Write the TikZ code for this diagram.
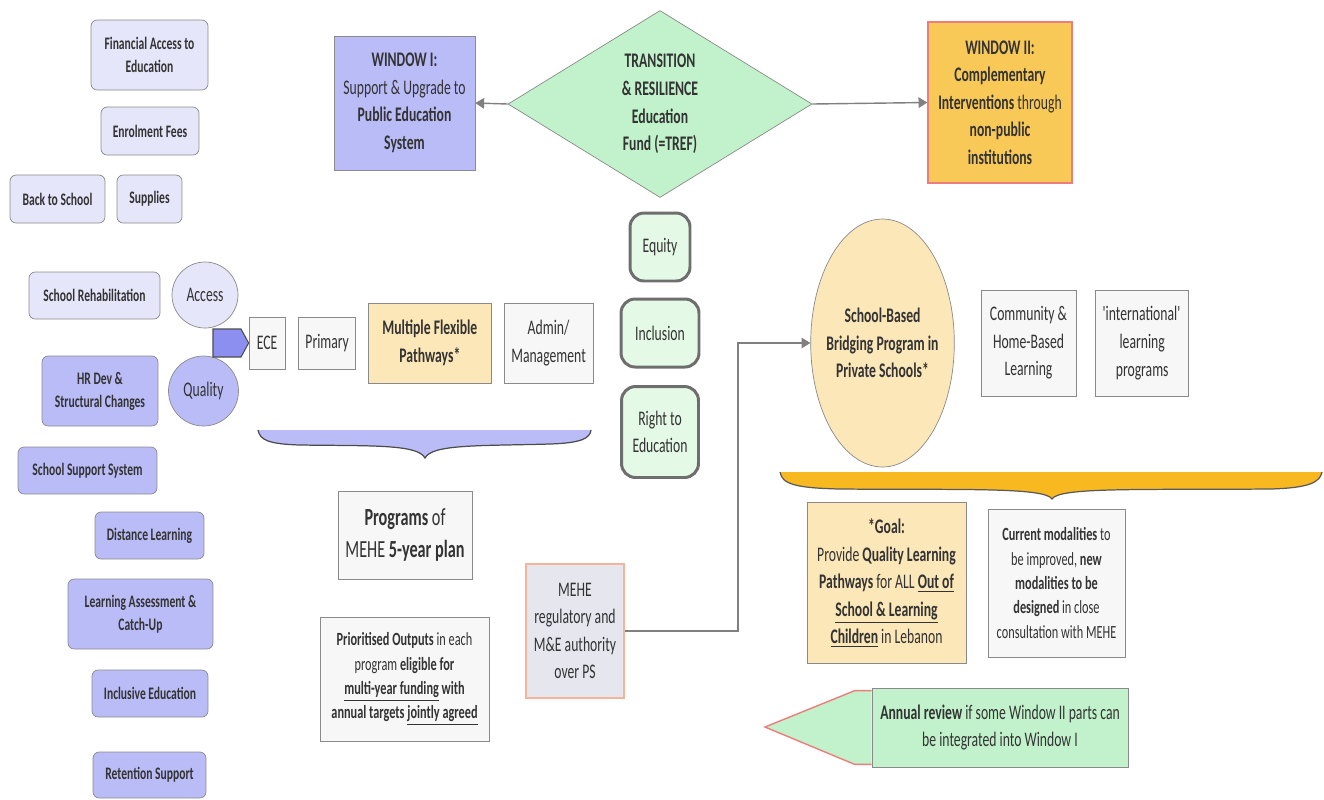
\documentclass[tikz,border=0pt]{standalone}
\usepackage{fontspec}
\setmainfont[FakeStretch=0.66]{Carlito}
\usepackage{xcolor}
\usepackage{tikz}
\usetikzlibrary{
  arrows.meta,
  positioning,
  calc,
  shapes.geometric,
  backgrounds
}
\definecolor{lavlight}{HTML}{E6E6FA}
\definecolor{lavdark}{HTML}{BABCF7}
\definecolor{paper}{HTML}{F7F7F7}
\definecolor{wheat}{HTML}{FBE7B8}
\definecolor{mint}{HTML}{C2F2CB}
\definecolor{mintlight}{HTML}{E4F9E6}
\definecolor{gold}{HTML}{F9C957}
\definecolor{bracegold}{HTML}{F8B820}
\definecolor{pointer}{HTML}{8C8EF0}
\definecolor{meheblue}{HTML}{E6E6EF}
\definecolor{salmon}{HTML}{F5B49A}
\definecolor{winred}{HTML}{EE7C7C}
\definecolor{edgegray}{HTML}{8A8A8A}
\definecolor{pillgray}{HTML}{6E6E6E}
\definecolor{linegray}{HTML}{808080}
\definecolor{ink}{HTML}{333333}
\newcommand{\tagfont}{\fontsize{10}{13}\selectfont\bfseries}
\newcommand{\bodyfont}{\fontsize{11.8}{15.7}\selectfont}
\newcommand{\notefont}{\fontsize{10.6}{13.9}\selectfont}
\newcommand{\udl}[1]{\underline{#1}}

\begin{document}
\begin{tikzpicture}[
  x=0.02cm, y=-0.02cm,
  tag/.style={draw=edgegray, fill=lavlight, rounded corners=3.5pt, inner sep=0pt, align=center, font=\tagfont, text=ink},
  tagdark/.style={tag, fill=lavdark},
  plain/.style={draw=edgegray, fill=paper, inner sep=0pt, align=center, font=\bodyfont, text=ink},
  pill/.style={draw=pillgray, line width=1.7pt, fill=mintlight, rounded corners=8pt, inner sep=0pt, align=center, font=\bodyfont, text=ink},
  dot/.style={circle, draw=edgegray, inner sep=0pt, font=\bodyfont, text=ink},
  conn/.style={draw=linegray, line width=0.8pt, -{Triangle[length=5pt,width=6pt]}},
]
  \useasboundingbox (0,0) rectangle (1324,799);

  % Fund and its two windows
  \node[diamond, shape aspect=1.6, draw=edgegray, fill=mint, minimum width=6.08cm, minimum height=3.74cm,
    inner sep=0pt, align=center, font=\bodyfont\bfseries, text=ink] (tref) at (660,104)
    {TRANSITION\\\& RESILIENCE\\Education\\Fund (=TREF)};
  \node[plain, fill=lavdark, minimum width=2.82cm, minimum height=2.68cm] (winone) at (404.5,103)
    {\textbf{WINDOW I:}\\Support \& Upgrade to\\\textbf{Public Education}\\\textbf{System}};
  \node[plain, fill=gold, draw=winred, line width=0.8pt, minimum width=2.88cm, minimum height=3.22cm] (wintwo) at (1000,102.5)
    {\textbf{WINDOW II:}\\\textbf{Complementary}\\\textbf{Interventions} through\\\textbf{non-public}\\\textbf{institutions}};
  \draw[conn] (tref.west) -- (winone.east);
  \draw[conn] (tref.east) -- (wintwo.west);

  % Principles
  \node[pill, minimum width=1.20cm, minimum height=1.36cm] (equity) at (660,247) {Equity};
  \node[pill, minimum width=1.56cm, minimum height=1.36cm] (inclusion) at (660,333) {Inclusion};
  \node[pill, minimum width=1.54cm, minimum height=1.82cm] (right) at (660,432) {Right to\\Education};

  % Access components
  \node[tag, minimum width=2.34cm, minimum height=1.40cm] (finance) at (149.5,55) {Financial Access to\\Education};
  \node[tag, minimum width=1.96cm, minimum height=0.96cm] (fees) at (150,131) {Enrolment Fees};
  \node[tag, minimum width=1.90cm, minimum height=0.96cm] (backsch) at (57.5,199) {Back to School};
  \node[tag, minimum width=1.30cm, minimum height=0.96cm] (supplies) at (149.5,199) {Supplies};
  \node[tag, minimum width=2.62cm, minimum height=0.94cm] (rehab) at (94.5,295.5) {School Rehabilitation};

  % Quality components
  \node[tagdark, minimum width=2.32cm, minimum height=1.40cm] (hrdev) at (100,391) {HR Dev \&\\Structural Changes};
  \node[tagdark, minimum width=2.78cm, minimum height=0.94cm] (support) at (87.5,470.5) {School Support System};
  \node[tagdark, minimum width=2.18cm, minimum height=0.94cm] (distance) at (149.5,535.5) {Distance Learning};
  \node[tagdark, minimum width=2.90cm, minimum height=1.40cm] (assess) at (140.5,614) {Learning Assessment \&\\Catch-Up};
  \node[tagdark, minimum width=2.32cm, minimum height=0.94cm] (inclusive) at (150,693.5) {Inclusive Education};
  \node[tagdark, minimum width=2.26cm, minimum height=0.92cm] (retention) at (149.5,775) {Retention Support};

  \node[dot, fill=lavlight, minimum size=1.32cm] (access) at (205,295) {Access};
  \node[dot, fill=lavdark, minimum size=1.40cm] (quality) at (203.5,391) {Quality};

  % Programs row
  \node[plain, minimum width=0.72cm, minimum height=1.04cm] (ece) at (267,343) {ECE};
  \node[plain, minimum width=1.14cm, minimum height=1.04cm, right=0.26cm of ece] (primary) {Primary};
  \node[plain, fill=wheat, font=\bodyfont\bfseries, minimum width=2.46cm, minimum height=1.60cm, right=0.24cm of primary] (flex) {Multiple Flexible\\Pathways*};
  \node[plain, minimum width=1.78cm, minimum height=1.60cm, right=0.24cm of flex] (admin) {Admin/\\Management};
  \filldraw[fill=pointer, draw=black!70, line width=0.6pt]
    (213,329) -- (241,329) -- (ece.west) -- (241,357) -- (213,357) -- cycle;

  % Brace under the programs
  \fill[lavdark] (258,430) .. controls (260,440) and (268,444) .. (300,445)
    .. controls (370,446) and (418,444) .. (425,458)
    .. controls (432,444) and (480,446) .. (550,444)
    .. controls (582,443) and (590,438) .. (591,430) -- cycle;
  \draw[black!70, line width=0.7pt] (258,430) .. controls (260,440) and (268,444) .. (300,445)
    .. controls (370,446) and (418,444) .. (425,458)
    .. controls (432,444) and (480,446) .. (550,444)
    .. controls (582,443) and (590,438) .. (591,430);

  \node[plain, font=\fontsize{14}{18}\selectfont, minimum width=2.68cm, minimum height=1.76cm] (plan) at (405,535)
    {\textbf{Programs} of\\MEHE \textbf{5-year plan}};
  \node[plain, font=\notefont, minimum width=3.38cm, minimum height=2.48cm] (outputs) at (404.5,679)
    {\textbf{Prioritised Outputs} in each\\program \textbf{eligible for}\\\udl{\textbf{multi-year funding}} \textbf{with}\\\textbf{annual targets} \udl{\textbf{jointly agreed}}};
  \node[plain, fill=meheblue, draw=salmon, line width=0.9pt, minimum width=1.96cm, minimum height=2.68cm] (mehe) at (575,631)
    {MEHE\\regulatory and\\M\&E authority\\over PS};

  % Window II side
  \node[ellipse, draw=edgegray, fill=wheat, minimum width=2.82cm, minimum height=4.96cm, inner xsep=-3pt, inner ysep=0pt,
    align=center, font=\bodyfont\bfseries, text=ink] (bridge) at (882.5,343)
    {School-Based\\Bridging Program in\\Private Schools*};
  \node[plain, minimum width=1.90cm, minimum height=2.12cm] (community) at (1028.5,343) {Community \&\\Home-Based\\Learning};
  \node[plain, minimum width=1.86cm, minimum height=2.12cm, right=0.38cm of community] (intl)
    {\textquotesingle\kern-0.8pt international\textquotesingle\\learning\\programs};

  \coordinate (bend) at (738,631);
  \draw[conn] (mehe.east) -- (bend) |- (bridge.west);

  % Brace under Window II
  \fill[bracegold] (780,472) .. controls (782,484) and (795,488) .. (840,489)
    .. controls (960,490) and (1045,487) .. (1052,499)
    .. controls (1059,487) and (1140,490) .. (1270,489)
    .. controls (1310,488) and (1320,482) .. (1322,472) -- cycle;
  \draw[black!65, line width=0.7pt] (780,472) .. controls (782,484) and (795,488) .. (840,489)
    .. controls (960,490) and (1045,487) .. (1052,499)
    .. controls (1059,487) and (1140,490) .. (1270,489)
    .. controls (1310,488) and (1320,482) .. (1322,472);

  \node[plain, fill=wheat, minimum width=3.18cm, minimum height=3.22cm] (goal) at (886.5,583)
    {\textbf{*Goal:}\\Provide \textbf{Quality Learning}\\\textbf{Pathways} for ALL \udl{\textbf{Out of}}\\\udl{\textbf{School \& Learning}}\\\udl{\textbf{Children}} in Lebanon};
  \node[plain, font=\notefont, minimum width=2.74cm, minimum height=2.96cm] (modal) at (1056.5,583)
    {\textbf{Current modalities} to\\be improved, \textbf{new}\\\textbf{modalities to be}\\\textbf{designed} in close\\consultation with MEHE};

  % Annual review arrow
  \node[plain, fill=mint, minimum width=5.12cm, minimum height=1.58cm] (review) at (1000,727.5)
    {\textbf{Annual review} if some Window II parts can\\be integrated into Window I};
  \coordinate (reviewtip) at (765,727);
  \begin{pgfonlayer}{background}
    \filldraw[fill=mint, draw=winred, line width=0.8pt] ($(review.north west)+(0,3)$) -- ++(-17,0) -- (reviewtip)
      -- ($(review.south west)+(-17,-3)$) -- ++(17,0);
  \end{pgfonlayer}
\end{tikzpicture}
\end{document}
